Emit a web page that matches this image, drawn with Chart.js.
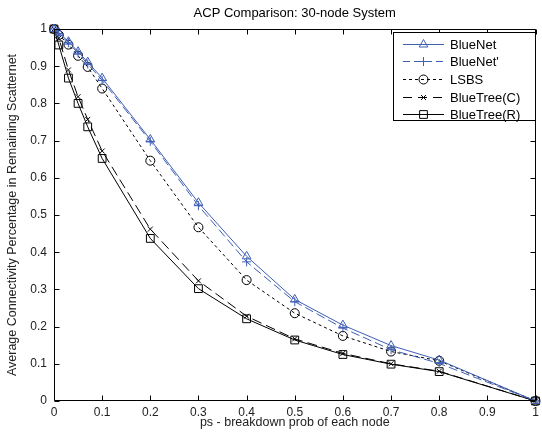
<!DOCTYPE html>
<html>
<head>
<meta charset="utf-8">
<script src="https://cdn.jsdelivr.net/npm/chart.js@4.4.1/dist/chart.umd.min.js"></script>
<style>
html,body{margin:0;padding:0;background:#fff;}
#wrap{width:542px;height:437px;}
</style>
</head>
<body>
<div id="wrap"><canvas id="c" width="542" height="437"></canvas></div>
<script>
// ---- data ----
const chartTitle = "ACP Comparison: 30-node System";
const xLabel = "ps - breakdown prob of each node";
const yLabel = "Average Connectivity Percentage in Remaining Scatternet";
const ps = [0, 0.01, 0.03, 0.05, 0.07, 0.1, 0.2, 0.3, 0.4, 0.5, 0.6, 0.7, 0.8, 1.0];
const blueNet      = [1, 0.990, 0.966, 0.939, 0.911, 0.868, 0.703, 0.533, 0.389, 0.273, 0.204, 0.149, 0.110, 0];
const blueNetPrime = [1, 0.988, 0.963, 0.935, 0.906, 0.862, 0.698, 0.525, 0.374, 0.267, 0.196, 0.138, 0.101, 0];
const lsbs         = [1, 0.984, 0.958, 0.928, 0.898, 0.840, 0.646, 0.467, 0.325, 0.236, 0.175, 0.133, 0.108, 0];
const blueTreeC    = [1, 0.975, 0.890, 0.818, 0.757, 0.672, 0.462, 0.323, 0.228, 0.167, 0.128, 0.100, 0.080, 0];
const blueTreeR    = [1, 0.957, 0.868, 0.800, 0.737, 0.652, 0.437, 0.302, 0.221, 0.164, 0.125, 0.099, 0.079, 0];
const seriesNames = ["BlueNet", "BlueNet'", "LSBS", "BlueTree(C)", "BlueTree(R)"];
const xTicks = [0, 0.1, 0.2, 0.3, 0.4, 0.5, 0.6, 0.7, 0.8, 0.9, 1];
const yTicks = [0, 0.1, 0.2, 0.3, 0.4, 0.5, 0.6, 0.7, 0.8, 0.9, 1];

const BLUE = '#3f5fb5';
const FONT = "'Liberation Sans', Arial, Helvetica, sans-serif";

function pts(ys){ return ps.map((x,i)=>({x:x, y:ys[i]})); }

const styles = [
  {color: BLUE, dash: [], ldash: [], marker: 'triangle', r: 5},
  {color: BLUE, dash: [9,4], ldash: [7,4], marker: 'cross', r: 4.5},
  {color: '#000', dash: [3,3], ldash: [3,3], marker: 'circle', r: 4.5},
  {color: '#000', dash: [10,5], ldash: [9,6], marker: 'crossRot', r: 3.5},
  {color: '#000', dash: [], ldash: [], marker: 'rect', r: 5.5}
];
const seriesData = [blueNet, blueNetPrime, lsbs, blueTreeC, blueTreeR];

const datasets = seriesData.map((d,i)=>({
  label: seriesNames[i],
  data: pts(d),
  showLine: true,
  borderColor: styles[i].color,
  borderWidth: 1,
  borderDash: styles[i].dash,
  pointStyle: styles[i].marker,
  pointRadius: styles[i].r,
  pointBorderColor: styles[i].color,
  pointBackgroundColor: 'rgba(0,0,0,0)',
  pointBorderWidth: 1,
  tension: 0,
  fill: false,
  clip: false
}));

function drawMarker(ctx, style, x, y, r){
  ctx.beginPath();
  if (style === 'triangle'){
    ctx.moveTo(x, y - r);
    ctx.lineTo(x + r*0.866, y + r*0.5);
    ctx.lineTo(x - r*0.866, y + r*0.5);
    ctx.closePath();
  } else if (style === 'cross'){
    ctx.moveTo(x - r, y); ctx.lineTo(x + r, y);
    ctx.moveTo(x, y - r); ctx.lineTo(x, y + r);
  } else if (style === 'circle'){
    ctx.arc(x, y, r, 0, Math.PI*2);
  } else if (style === 'crossRot'){
    const o = r*0.7071;
    ctx.moveTo(x - o, y - o); ctx.lineTo(x + o, y + o);
    ctx.moveTo(x + o, y - o); ctx.lineTo(x - o, y + o);
  } else if (style === 'rect'){
    const s = r*0.7071;
    ctx.rect(x - s, y - s, 2*s, 2*s);
  }
  ctx.stroke();
}

const framePlugin = {
  id: 'frame',
  beforeDraw(chart){
    const ctx = chart.ctx;
    ctx.save();
    ctx.fillStyle = '#fff';
    ctx.fillRect(0,0,chart.width,chart.height);
    ctx.fillStyle = '#000';
    ctx.font = "13px " + FONT;
    ctx.textAlign = 'center';
    ctx.textBaseline = 'middle';
    const a = chart.chartArea;
    ctx.fillText(chartTitle, (a.left + a.right)/2, 13);
    ctx.restore();
  },
  afterDraw(chart){
    const ctx = chart.ctx, a = chart.chartArea;
    const xs = chart.scales.x, ys = chart.scales.y;
    ctx.save();
    ctx.strokeStyle = '#000';
    ctx.lineWidth = 1;
    ctx.setLineDash([]);
    ctx.beginPath();
    const L = Math.round(a.left)+0.5, R = Math.round(a.right)-0.5, T = Math.round(a.top)+0.5, B = Math.round(a.bottom)-0.5;
    ctx.rect(L, T, R-L, B-T);
    const tl = 5;
    xTicks.forEach(v=>{
      const px = Math.round(xs.getPixelForValue(v))+0.5;
      ctx.moveTo(px, B); ctx.lineTo(px, B-tl);
      ctx.moveTo(px, T); ctx.lineTo(px, T+tl);
    });
    yTicks.forEach(v=>{
      const py = Math.round(ys.getPixelForValue(v))+0.5;
      ctx.moveTo(L, py); ctx.lineTo(L+tl, py);
      ctx.moveTo(R, py); ctx.lineTo(R-tl, py);
    });
    ctx.stroke();

    // legend
    const bx = 393.5, by = 32.5, bw = 142, bh = 88;
    ctx.fillStyle = '#fff';
    ctx.fillRect(bx, by, bw, bh);
    ctx.strokeRect(bx, by, bw, bh);
    ctx.font = "13px " + FONT;
    ctx.textAlign = 'left';
    ctx.textBaseline = 'middle';
    seriesNames.forEach((n,i)=>{
      const y = Math.round(43.5 + i*17.7) + 0.5;
      const st = styles[i];
      ctx.strokeStyle = st.color;
      ctx.setLineDash(st.ldash);
      ctx.beginPath();
      ctx.moveTo(403, y); ctx.lineTo(444, y);
      ctx.stroke();
      ctx.setLineDash([]);
      drawMarker(ctx, st.marker, 423.5, y, st.r);
      ctx.fillStyle = '#000';
      ctx.fillText(n, 450, y + 0.5);
    });
    ctx.restore();
  }
};

new Chart(document.getElementById('c'), {
  type: 'scatter',
  data: { datasets },
  options: {
    responsive: false,
    devicePixelRatio: 1,
    animation: false,
    layout: { padding: { top: 29, right: 2, left: 0, bottom: 0 } },
    plugins: { legend: { display: false }, title: { display: false }, tooltip: { enabled: false } },
    scales: {
      x: {
        type: 'linear', min: 0, max: 1,
        afterFit(s){ s.height = 36; s.paddingRight = 0; s.paddingLeft = 0; },
        afterBuildTicks(s){ s.ticks = xTicks.map(v=>({value:v})); },
        ticks: { padding: 4, color: '#222', font: { family: FONT, size: 12 },
          callback: v => String(v) , maxRotation: 0, autoSkip: false },
        grid: { display: true, drawOnChartArea: false, drawTicks: false },
        border: { display: false },
        title: { display: true, text: xLabel, color: '#222', font: { family: FONT, size: 12.5 }, padding: { top: 0, bottom: 7 } }
      },
      y: {
        type: 'linear', min: 0, max: 1,
        afterFit(s){ s.width = 54; },
        afterBuildTicks(s){ s.ticks = yTicks.map(v=>({value:v})); },
        ticks: { padding: 7, color: '#222', font: { family: FONT, size: 12 },
          callback: v => String(v), autoSkip: false },
        grid: { display: true, drawOnChartArea: false, drawTicks: false },
        border: { display: false },
        title: { display: true, text: yLabel, color: '#222', font: { family: FONT, size: 12.5 }, padding: { top: 5, bottom: 0 } }
      }
    }
  },
  plugins: [framePlugin]
});
</script>
</body>
</html>
